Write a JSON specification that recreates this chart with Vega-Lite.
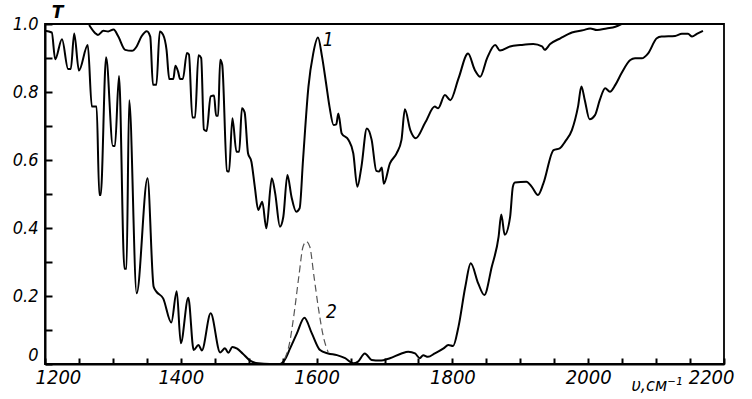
{
  "$schema": "https://vega.github.io/schema/vega-lite/v6.json",
  "width": 679,
  "height": 340,
  "autosize": {"type": "none"},
  "padding": {"left": 45, "top": 24, "right": 28, "bottom": 35},
  "background": "white",
  "config": {"view": {"stroke": "#000", "strokeWidth": 1.8}, "font": "DejaVu Sans Condensed"},
  "datasets": {
    "c1": [
      {"wn":1265,"T":0.997},{"wn":1274,"T":0.973},{"wn":1278,"T":0.968},{"wn":1286,"T":0.98},{"wn":1293,"T":0.978},{"wn":1301,"T":0.984},{"wn":1308,"T":0.963},{"wn":1318,"T":0.924},{"wn":1328,"T":0.921},{"wn":1335,"T":0.934},{"wn":1342,"T":0.963},{"wn":1350,"T":0.979},{"wn":1355,"T":0.963},{"wn":1359,"T":0.821},{"wn":1364,"T":0.821},{"wn":1369,"T":0.978},{"wn":1374,"T":0.968},{"wn":1379,"T":0.924},{"wn":1383,"T":0.838},{"wn":1389,"T":0.838},{"wn":1392,"T":0.877},{"wn":1396,"T":0.86},{"wn":1399,"T":0.838},{"wn":1403,"T":0.838},{"wn":1409,"T":0.915},{"wn":1412,"T":0.91},{"wn":1417,"T":0.725},{"wn":1421,"T":0.725},{"wn":1426,"T":0.908},{"wn":1430,"T":0.9},{"wn":1434,"T":0.69},{"wn":1438,"T":0.685},{"wn":1444,"T":0.787},{"wn":1449,"T":0.79},{"wn":1452,"T":0.73},{"wn":1455,"T":0.73},{"wn":1458,"T":0.895},{"wn":1461,"T":0.88},{"wn":1468,"T":0.568},{"wn":1471,"T":0.566},{"wn":1476,"T":0.723},{"wn":1482,"T":0.624},{"wn":1486,"T":0.624},{"wn":1490,"T":0.752},{"wn":1494,"T":0.74},{"wn":1499,"T":0.62},{"wn":1504,"T":0.595},{"wn":1509,"T":0.521},{"wn":1514,"T":0.453},{"wn":1520,"T":0.477},{"wn":1526,"T":0.399},{"wn":1534,"T":0.546},{"wn":1539,"T":0.502},{"wn":1546,"T":0.404},{"wn":1551,"T":0.433},{"wn":1557,"T":0.556},{"wn":1563,"T":0.492},{"wn":1570,"T":0.448},{"wn":1575,"T":0.458},{"wn":1580,"T":0.6},{"wn":1588,"T":0.816},{"wn":1595,"T":0.913},{"wn":1602,"T":0.96},{"wn":1608,"T":0.904},{"wn":1614,"T":0.825},{"wn":1619,"T":0.757},{"wn":1625,"T":0.703},{"wn":1629,"T":0.705},{"wn":1632,"T":0.737},{"wn":1637,"T":0.678},{"wn":1647,"T":0.659},{"wn":1654,"T":0.62},{"wn":1660,"T":0.521},{"wn":1666,"T":0.58},{"wn":1674,"T":0.693},{"wn":1681,"T":0.66},{"wn":1688,"T":0.568},{"wn":1692,"T":0.566},{"wn":1696,"T":0.578},{"wn":1699,"T":0.53},{"wn":1708,"T":0.59},{"wn":1718,"T":0.62},{"wn":1725,"T":0.659},{"wn":1730,"T":0.749},{"wn":1738,"T":0.688},{"wn":1746,"T":0.664},{"wn":1760,"T":0.71},{"wn":1774,"T":0.757},{"wn":1779,"T":0.752},{"wn":1789,"T":0.791},{"wn":1797,"T":0.776},{"wn":1809,"T":0.84},{"wn":1823,"T":0.913},{"wn":1833,"T":0.865},{"wn":1841,"T":0.845},{"wn":1851,"T":0.899},{"wn":1863,"T":0.938},{"wn":1870,"T":0.922},{"wn":1885,"T":0.934},{"wn":1900,"T":0.938},{"wn":1919,"T":0.941},{"wn":1932,"T":0.934},{"wn":1936,"T":0.924},{"wn":1944,"T":0.941},{"wn":1959,"T":0.958},{"wn":1976,"T":0.975},{"wn":1993,"T":0.982},{"wn":2003,"T":0.987},{"wn":2013,"T":0.982},{"wn":2027,"T":0.987},{"wn":2040,"T":0.992},{"wn":2049,"T":1.0}
    ],
    "c2": [
      {"wn":1200,"T":0.98},{"wn":1210,"T":0.975},{"wn":1215,"T":0.896},{"wn":1225,"T":0.955},{"wn":1234,"T":0.868},{"wn":1238,"T":0.868},{"wn":1243,"T":0.972},{"wn":1250,"T":0.863},{"wn":1263,"T":0.938},{"wn":1269,"T":0.757},{"wn":1276,"T":0.757},{"wn":1280,"T":0.497},{"wn":1282,"T":0.497},{"wn":1290,"T":0.902},{"wn":1300,"T":0.641},{"wn":1303,"T":0.641},{"wn":1309,"T":0.847},{"wn":1317,"T":0.28},{"wn":1320,"T":0.28},{"wn":1324,"T":0.776},{"wn":1335,"T":0.208},{"wn":1351,"T":0.546},{"wn":1360,"T":0.227},{"wn":1364,"T":0.213},{"wn":1374,"T":0.193},{"wn":1386,"T":0.122},{"wn":1394,"T":0.214},{"wn":1400,"T":0.061},{"wn":1411,"T":0.195},{"wn":1419,"T":0.041},{"wn":1426,"T":0.056},{"wn":1431,"T":0.04},{"wn":1444,"T":0.149},{"wn":1458,"T":0.034},{"wn":1465,"T":0.046},{"wn":1470,"T":0.033},{"wn":1476,"T":0.05},{"wn":1483,"T":0.045},{"wn":1491,"T":0.031},{"wn":1502,"T":0.01},{"wn":1514,"T":0.002},{"wn":1531,"T":0},{"wn":1546,"T":0},{"wn":1553,"T":0.012},{"wn":1561,"T":0.046},{"wn":1571,"T":0.09},{"wn":1582,"T":0.136},{"wn":1593,"T":0.09},{"wn":1605,"T":0.041},{"wn":1617,"T":0.031},{"wn":1630,"T":0.026},{"wn":1642,"T":0.017},{"wn":1654,"T":0.002},{"wn":1661,"T":0.007},{"wn":1671,"T":0.031},{"wn":1681,"T":0.012},{"wn":1693,"T":0.01},{"wn":1708,"T":0.017},{"wn":1725,"T":0.031},{"wn":1735,"T":0.036},{"wn":1745,"T":0.031},{"wn":1752,"T":0.017},{"wn":1757,"T":0.026},{"wn":1764,"T":0.021},{"wn":1774,"T":0.031},{"wn":1787,"T":0.046},{"wn":1794,"T":0.056},{"wn":1801,"T":0.053},{"wn":1809,"T":0.11},{"wn":1819,"T":0.227},{"wn":1827,"T":0.296},{"wn":1838,"T":0.237},{"wn":1847,"T":0.203},{"wn":1858,"T":0.286},{"wn":1868,"T":0.374},{"wn":1872,"T":0.44},{"wn":1877,"T":0.38},{"wn":1885,"T":0.433},{"wn":1889,"T":0.521},{"wn":1892,"T":0.534},{"wn":1909,"T":0.536},{"wn":1917,"T":0.521},{"wn":1926,"T":0.497},{"wn":1934,"T":0.531},{"wn":1949,"T":0.629},{"wn":1958,"T":0.634},{"wn":1966,"T":0.654},{"wn":1976,"T":0.688},{"wn":1985,"T":0.757},{"wn":1990,"T":0.816},{"wn":1995,"T":0.776},{"wn":2002,"T":0.72},{"wn":2010,"T":0.732},{"wn":2017,"T":0.776},{"wn":2025,"T":0.811},{"wn":2032,"T":0.801},{"wn":2040,"T":0.821},{"wn":2049,"T":0.855},{"wn":2062,"T":0.894},{"wn":2069,"T":0.899},{"wn":2079,"T":0.899},{"wn":2088,"T":0.913},{"wn":2101,"T":0.958},{"wn":2108,"T":0.963},{"wn":2128,"T":0.965},{"wn":2138,"T":0.971},{"wn":2147,"T":0.971},{"wn":2153,"T":0.963},{"wn":2160,"T":0.971},{"wn":2169,"T":0.98}
    ],
    "c2d": [
      {"wn":1553,"T":0.015},{"wn":1560,"T":0.06},{"wn":1567,"T":0.15},{"wn":1574,"T":0.26},{"wn":1580,"T":0.345},{"wn":1585,"T":0.36},{"wn":1590,"T":0.345},{"wn":1596,"T":0.26},{"wn":1603,"T":0.16},{"wn":1610,"T":0.08},{"wn":1617,"T":0.035}
    ],
    "labels": [
      {"wn":1617,"T":0.953,"label":"1"},
      {"wn":1622,"T":0.154,"label":"2"}
    ]
  },
  "encoding": {
    "x": {
      "field": "wn", "type": "quantitative",
      "scale": {"domain": [1200, 2200], "nice": false, "zero": false},
      "axis": {
        "title": "υ,см⁻¹",
        "values": [1200,1250,1300,1350,1400,1450,1500,1550,1600,1650,1700,1750,1800,1850,1900,1950,2000,2050,2100,2150,2200],
        "format": "d",
        "labelExpr": "datum.value % 200 == 0 ? datum.label : ''",
        "labelFlush": true,
        "labelFlushOffset": 10,
        "labelOverlap": false,
        "grid": false,
        "domainColor": "#000", "domainWidth": 2,
        "tickColor": "#000", "tickWidth": 2, "tickSize": -6,
        "labelFont": "DejaVu Sans Condensed", "labelFontStyle": "italic", "labelFontSize": 20, "labelColor": "#000",
        "labelPadding": 9,
        "titleFont": "DejaVu Sans Condensed", "titleFontStyle": "italic", "titleFontWeight": "normal", "titleFontSize": 18, "titleColor": "#000",
        "titleX": 586, "titleY": 26, "titleAlign": "left", "titleBaseline": "alphabetic"
      }
    },
    "y": {
      "field": "T", "type": "quantitative",
      "scale": {"domain": [0, 1], "nice": false},
      "axis": {
        "title": "T",
        "values": [0,0.1,0.2,0.3,0.4,0.5,0.6,0.7,0.8,0.9,1],
        "labelExpr": "datum.value == 0 ? '0' : (round(datum.value * 10) % 2 == 0 ? format(datum.value, '.1f') : '')",
        "labelBaseline": {"condition": {"test": "datum.value == 0", "value": "bottom"}, "value": "middle"},
        "labelOverlap": false,
        "grid": false,
        "domainColor": "#000", "domainWidth": 2,
        "tickColor": "#000", "tickWidth": 2, "tickSize": -7,
        "labelFont": "DejaVu Sans Condensed", "labelFontStyle": "italic", "labelFontSize": 18, "labelColor": "#000",
        "labelPadding": 14,
        "titleFont": "DejaVu Sans", "titleFontStyle": "italic", "titleFontWeight": "bold", "titleFontSize": 17, "titleColor": "#000",
        "titleAngle": 0, "titleX": 12, "titleY": -7, "titleAlign": "center", "titleBaseline": "alphabetic"
      }
    }
  },
  "layer": [
    {"data": {"name": "c1"}, "mark": {"type": "line", "color": "#000", "strokeWidth": 2, "interpolate": "monotone"}},
    {"data": {"name": "c2"}, "mark": {"type": "line", "color": "#000", "strokeWidth": 2, "interpolate": "monotone"}},
    {"data": {"name": "c2d"}, "mark": {"type": "line", "color": "#555", "strokeWidth": 1.2, "strokeDash": [7, 4], "interpolate": "monotone"}},
    {"data": {"name": "labels"}, "mark": {"type": "text", "font": "DejaVu Sans Condensed", "fontStyle": "italic", "fontSize": 19, "color": "#000", "align": "center", "baseline": "middle"}, "encoding": {"text": {"field": "label"}}}
  ]
}
